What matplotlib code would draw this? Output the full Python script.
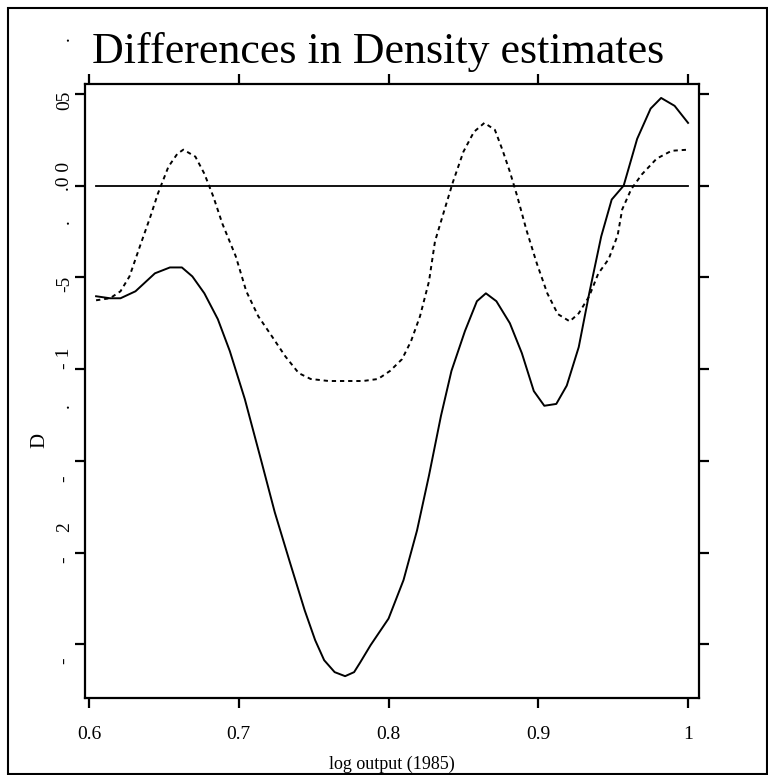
import matplotlib
matplotlib.use("Agg")
import matplotlib.pyplot as plt
from matplotlib.patches import Rectangle
import numpy as np

# ---- data ----
x_solid = [0.6047, 0.614, 0.621, 0.631, 0.644, 0.654, 0.662, 0.669, 0.677, 0.686,
           0.694, 0.704, 0.715, 0.724, 0.734, 0.744, 0.751, 0.757, 0.764, 0.771,
           0.777, 0.781, 0.788, 0.800, 0.810, 0.819, 0.827, 0.835, 0.842, 0.851,
           0.859, 0.865, 0.872, 0.881, 0.889, 0.897, 0.904, 0.912, 0.919, 0.927,
           0.934, 0.942, 0.949, 0.957, 0.966, 0.975, 0.982, 0.991, 1.000]
y_solid = [-0.603, -0.614, -0.614, -0.576, -0.478, -0.446, -0.446, -0.495, -0.587, -0.728,
           -0.902, -1.163, -1.50, -1.78, -2.05, -2.315, -2.478, -2.587, -2.652, -2.674,
           -2.652, -2.60, -2.505, -2.36, -2.15, -1.88, -1.58, -1.255, -1.01, -0.793,
           -0.63, -0.587, -0.63, -0.75, -0.913, -1.12, -1.20, -1.19, -1.09, -0.88,
           -0.587, -0.277, -0.076, 0.0, 0.255, 0.42, 0.478, 0.435, 0.342]

x_dash = [0.6047, 0.614, 0.621, 0.627, 0.634, 0.641, 0.646, 0.653, 0.659, 0.663,
          0.671, 0.677, 0.683, 0.689, 0.698, 0.705, 0.713, 0.722, 0.731, 0.740,
          0.748, 0.760, 0.773, 0.783, 0.793, 0.801, 0.809, 0.815, 0.821, 0.827,
          0.831, 0.837, 0.843, 0.850, 0.857, 0.864, 0.871, 0.876, 0.881, 0.886,
          0.892, 0.899, 0.906, 0.913, 0.921, 0.927, 0.934, 0.940, 0.947, 0.953,
          0.956, 0.962, 0.969, 0.979, 0.989, 1.000]
y_dash = [-0.625, -0.614, -0.576, -0.495, -0.33, -0.168, -0.043, 0.103, 0.174, 0.196,
          0.158, 0.065, -0.06, -0.207, -0.386, -0.576, -0.712, -0.82, -0.93, -1.022,
          -1.054, -1.065, -1.065, -1.065, -1.054, -1.01, -0.946, -0.848, -0.712, -0.522,
          -0.304, -0.141, 0.02, 0.185, 0.293, 0.342, 0.304, 0.196, 0.076, -0.06,
          -0.24, -0.424, -0.587, -0.70, -0.74, -0.696, -0.603, -0.48, -0.40, -0.27,
          -0.13, -0.02, 0.06, 0.147, 0.19, 0.196]

zero_line_x = [0.6047, 1.0]
zero_line_y = [0.0, 0.0]

x_ticks = [0.6, 0.7, 0.8, 0.9, 1.0]
x_tick_labels = ["0.6", "0.7", "0.8", "0.9", "1"]
y_ticks = [0.5, 0.0, -0.5, -1.0, -1.5, -2.0, -2.5]
# garbled y tick label fragments as they appear: (text, y position in data units)
y_label_fragments = [(".", 0.799), ("05", 0.467), (".0 0", 0.05), (".", -0.196),
                     ("-5", -0.535), ("- 1", -0.94), (".", -1.20), ("-", -1.60),
                     ("2", -1.86), ("-", -2.04), ("-", -2.59)]

title = "Differences in Density estimates"
xlabel = "log output (1985)"
ylabel = "D"

# ---- figure ----
W, H = 768, 775
fig = plt.figure(figsize=(W / 100, H / 100), dpi=100)
plt.rcParams["font.family"] = ["Liberation Serif", "DejaVu Serif"]

ax = fig.add_axes([85 / W, 1 - 698 / H, 614 / W, 614 / H])
ax.set_xlim(0.5973, 1.0073)
ax.set_ylim(-2.793, 0.554)

ax.plot(zero_line_x, zero_line_y, color="black", lw=1.3)
ax.plot(x_solid, y_solid, color="black", lw=1.4)
ax.plot(x_dash, y_dash, color="black", lw=1.4, linestyle=(0, (2.2, 2.0)))

for s in ax.spines.values():
    s.set_linewidth(1.6)

ax.set_xticks(x_ticks)
ax.set_xticklabels(x_tick_labels, fontsize=14)
ax.tick_params(axis="x", which="both", direction="out", length=7, width=1.6,
               top=True, bottom=True, pad=13.5)
ax.set_yticks(y_ticks)
ax.set_yticklabels([""] * len(y_ticks))
ax.tick_params(axis="y", which="both", direction="out", length=7, width=1.6,
               left=True, right=True)

trans = ax.get_yaxis_transform()
for txt, yv in y_label_fragments:
    ax.text(-0.033, yv, txt, transform=trans, rotation=90, fontsize=14,
            ha="center", va="center", clip_on=False)

ax.set_xlabel(xlabel, fontsize=13, labelpad=9)
fig.text(40 / W, 1 - 440 / H, ylabel, rotation=90, fontsize=15,
         ha="center", va="center")

fig.text(92 / W, 1 - 63 / H, title, fontsize=31.7, ha="left", va="baseline")

fig.patches.append(Rectangle((8 / W, 1 - 774 / H), 759 / W, 766 / H,
                             transform=fig.transFigure, fill=False,
                             edgecolor="black", lw=1.5))

fig.savefig("out.png", dpi=100)
